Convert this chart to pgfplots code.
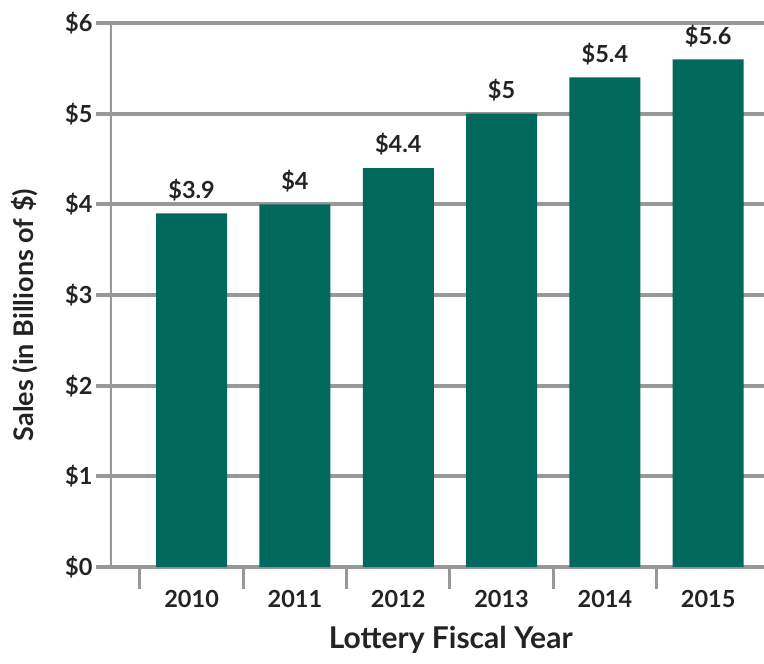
\documentclass[border=0pt]{standalone}
\usepackage{fontspec}
\setmainfont{Lato}
\usepackage{pgfplots}
\pgfplotsset{compat=1.18}
\definecolor{barteal}{RGB}{0,104,92}
\definecolor{gridgray}{RGB}{152,152,152}
\definecolor{txt}{RGB}{35,35,35}
\begin{document}
\begin{tikzpicture}
\begin{axis}[
  scale only axis, width=654pt, height=544pt,
  xmin=-0.79, xmax=5.54, ymin=0, ymax=6,
  axis line style={draw=none},
  /pgf/number format/assume math mode=true,
  ybar, bar width=71pt,
  xtick={0,1,2,3,4,5},
  xticklabels={2010,2011,2012,2013,2014,2015},
  minor xtick={-0.5,0.5,1.5,2.5,3.5,4.5},
  ytick={0,1,2,3,4,5,6},
  yticklabel={\$\pgfmathprintnumber{\tick}},
  tick pos=left,
  tick align=outside,
  major tick length=14pt,
  minor tick length=22pt,
  every major x tick/.append style={draw=none},
  every minor x tick/.append style={gridgray, line width=3pt},
  every major y tick/.append style={gridgray, line width=4pt},
  ymajorgrids,
  major grid style={gridgray, line width=4pt},
  tick label style={font=\bfseries\fontsize{23.5}{28}\selectfont, text=txt},
  xticklabel style={yshift=-6pt},
  xlabel={Lottery Fiscal Year},
  ylabel={Sales (in Billions of \$)},
  xlabel style={font=\bfseries\fontsize{30}{36}\selectfont, text=txt, at={(axis description cs:0.521,-0.134)}, anchor=center},
  ylabel style={font=\bfseries\fontsize{27}{32}\selectfont, text=txt, at={(axis description cs:-0.13,0.463)}, anchor=center},
  nodes near coords={\$\pgfmathprintnumber{\pgfplotspointmeta}},
  every node near coord/.append style={font=\bfseries\fontsize{23.5}{28}\selectfont, text=txt, yshift=9pt},
]
\addplot[fill=barteal, draw=none] coordinates {(0,3.9) (1,4) (2,4.4) (3,5) (4,5.4) (5,5.6)};
\draw[gridgray, line width=4pt] (rel axis cs:0,0) -- (rel axis cs:0,1);
\coordinate (bl) at (rel axis cs:0,0);
\coordinate (tr) at (rel axis cs:1,1);
\end{axis}
\pgfresetboundingbox
\path[use as bounding box] ([xshift=-110pt,yshift=-96pt]bl) rectangle ([yshift=23pt]tr);
\end{tikzpicture}
\end{document}
